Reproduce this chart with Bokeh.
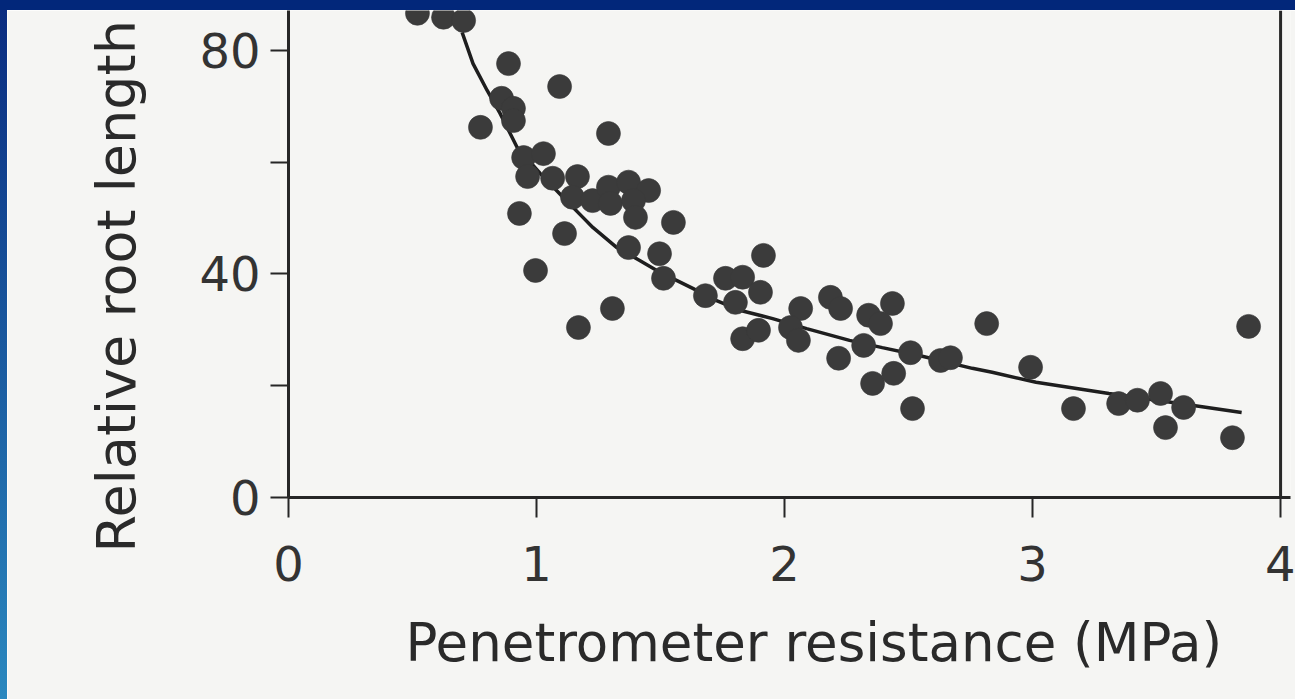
from bokeh.plotting import figure
from bokeh.models import Range1d, FixedTicker, Span, Div, Title
from bokeh.layouts import column, row
from bokeh.embed import file_html
from bokeh.resources import INLINE

# ---- data ----
resistance = [0.52, 0.625, 0.706, 0.887, 1.093, 0.774, 0.859, 0.907, 0.907, 1.29,
              0.948, 1.028, 0.964, 1.065, 1.165, 1.145, 1.226, 1.29, 1.371, 1.452,
              1.298, 1.391, 1.399, 1.552, 0.931, 1.113, 0.996, 1.371, 1.496, 1.512,
              1.306, 1.169, 1.681, 1.915, 1.762, 1.831, 1.802, 1.903, 1.831, 1.895,
              2.065, 2.024, 2.056, 2.185, 2.226, 2.218, 2.339, 2.435, 2.387, 2.319,
              2.508, 2.629, 2.669, 2.355, 2.44, 2.516, 2.815, 2.992, 3.165, 3.347,
              3.423, 3.516, 3.609, 3.536, 3.806, 3.871]
root_length = [86.6, 85.9, 85.3, 77.6, 73.5, 66.2, 71.4, 69.6, 67.4, 65.1,
               60.8, 61.5, 57.4, 57.1, 57.4, 53.7, 53.1, 55.5, 56.4, 54.9,
               52.6, 53.1, 50.1, 49.2, 50.8, 47.2, 40.6, 44.7, 43.6, 39.2,
               33.8, 30.4, 36.1, 43.3, 39.2, 39.4, 34.9, 36.7, 28.4, 29.9,
               33.8, 30.4, 28.1, 35.8, 33.8, 24.9, 32.6, 34.7, 31.1, 27.2,
               25.9, 24.5, 25.0, 20.4, 22.2, 15.9, 31.1, 23.3, 15.9, 16.8,
               17.4, 18.6, 16.1, 12.5, 10.7, 30.6]

fit_x = [0.70, 0.744, 0.801, 0.853, 0.922, 1.014, 1.107, 1.187, 1.227, 1.324,
         1.416, 1.497, 1.630, 1.726, 1.819, 1.952, 2.089, 2.262, 2.394, 2.543,
         2.757, 2.837, 3.014, 3.308, 3.642, 3.843]
fit_y = [83.2, 77.6, 72.8, 68.7, 62.6, 58.0, 53.7, 50.1, 48.3, 44.7,
         42.4, 40.3, 37.4, 35.2, 33.5, 32.0, 30.2, 28.1, 26.8, 25.4,
         23.1, 22.4, 20.6, 18.6, 16.5, 15.2]

x_ticks = [0, 1, 2, 3, 4]
y_ticks = [0, 20, 40, 60, 80]
y_tick_labels = {0: "0", 20: "", 40: "40", 60: "", 80: "80"}

x_title = "Penetrometer resistance (MPa)"
y_title = "Relative root length"

# ---- style ----
paper = "#f5f5f3"
ink = "#262626"
dot = "#3b3b3b"
font = "DejaVu Sans"

p = figure(width=1288, height=689,
           x_range=Range1d(0, 4.04), y_range=Range1d(0, 87.1),
           output_backend="svg", toolbar_location=None,
           min_border_left=281, min_border_right=5,
           min_border_top=0, min_border_bottom=202,
           background_fill_color=paper, border_fill_color=paper,
           outline_line_color=None, margin=0)

p.xgrid.visible = False
p.ygrid.visible = False

for ax in (p.xaxis[0], p.yaxis[0]):
    ax.axis_line_color = ink
    ax.axis_line_width = 3
    ax.major_tick_line_color = ink
    ax.major_tick_line_width = 2
    ax.major_tick_in = 0
    ax.minor_tick_line_color = None
    ax.major_label_text_font = font
    ax.major_label_text_font_size = "48px"
    ax.major_label_text_color = "#333333"

p.xaxis[0].ticker = FixedTicker(ticks=x_ticks)
p.xaxis[0].major_tick_out = 20
p.xaxis[0].major_label_standoff = 28

p.yaxis[0].ticker = FixedTicker(ticks=y_ticks)
p.yaxis[0].major_label_overrides = y_tick_labels
p.yaxis[0].major_tick_out = 18
p.yaxis[0].major_label_standoff = 10

p.add_layout(Span(location=4, dimension="height", line_color=ink, line_width=3))

p.line(fit_x, fit_y, line_color="#1e1e1e", line_width=3.5)
p.scatter(resistance, root_length, size=24, fill_color=dot, line_color=dot,
          line_width=1, line_alpha=0.6)

p.add_layout(Title(text=x_title, text_font=font, text_font_size="53px",
                   text_font_style="normal", text_color="#2a2a2a",
                   align="left", offset=117, standoff=52), "below")
p.add_layout(Title(text=y_title, text_font=font, text_font_size="54px",
                   text_font_style="normal", text_color="#2a2a2a",
                   align="left", offset=-55, standoff=98), "left")

top_band = Div(text="", width=1295, height=10, margin=0,
               styles={"background-color": "#02277a"})
left_band = Div(text="", width=7, height=689, margin=0,
                styles={"background": "linear-gradient(#0a2c80, #2a88bf)"})

layout = column(top_band, row(left_band, p, margin=0, spacing=0),
                margin=0, spacing=0)

open("out.html", "w").write(file_html(layout, INLINE))
